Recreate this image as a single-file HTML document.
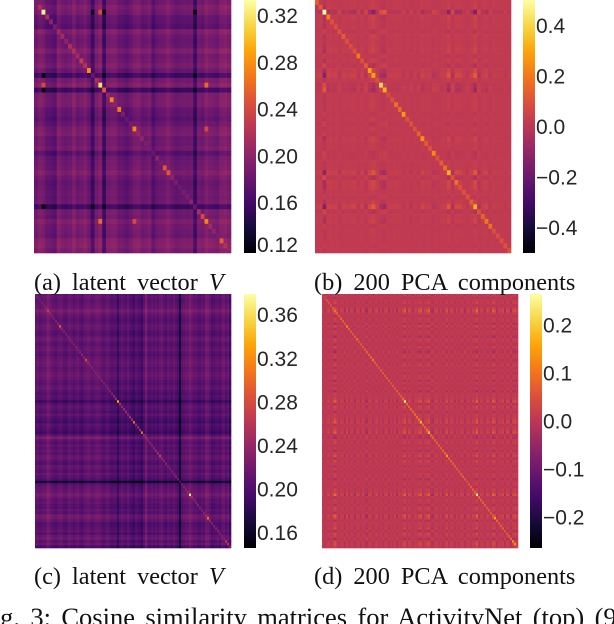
<!DOCTYPE html>
<html lang="en">
<head>
<meta charset="utf-8">
<title>Cosine similarity matrices</title>
<style>
html,body{margin:0;padding:0;background:#fff;width:614px;height:624px;overflow:hidden}
svg{display:block}
.tick{font-family:"Liberation Sans",sans-serif;font-size:21px;fill:#262626}
.cap{font-family:"Liberation Serif",serif;font-size:24.3px;fill:#111;word-spacing:5px}
.note{font-family:"Liberation Serif",serif;font-size:26.5px;fill:#111;word-spacing:3.75px}
</style>
</head>
<body>
<svg id="figure" xmlns="http://www.w3.org/2000/svg" width="614" height="624" viewBox="0 0 614 624">
  <defs>
    <linearGradient id="inferno" x1="0" y1="1" x2="0" y2="0">
      <stop offset="0" stop-color="#000004"/><stop offset="0.1" stop-color="#160b39"/>
      <stop offset="0.2" stop-color="#420a68"/><stop offset="0.3" stop-color="#6a176e"/>
      <stop offset="0.4" stop-color="#932667"/><stop offset="0.5" stop-color="#bc3754"/>
      <stop offset="0.6" stop-color="#dd513a"/><stop offset="0.7" stop-color="#f37819"/>
      <stop offset="0.8" stop-color="#fca50a"/><stop offset="0.9" stop-color="#f6d746"/>
      <stop offset="1" stop-color="#fcffa4"/>
    </linearGradient>
  </defs>
  <g id="panel-a"></g>
  <g id="panel-b"></g>
  <g id="panel-c"></g>
  <g id="panel-d"></g>
  <text class="cap" x="34" y="290">(a) latent vector <tspan font-style="italic">V</tspan></text>
  <text class="cap" x="314" y="290">(b) 200 PCA components</text>
  <text class="cap" x="34" y="584">(c) latent vector <tspan font-style="italic">V</tspan></text>
  <text class="cap" x="314" y="584">(d) 200 PCA components</text>
  <text class="note" x="-22" y="626">Fig. 3: Cosine similarity matrices for ActivityNet (top) (9</text>
</svg>
<script>
// Colormap stops (inferno)
const infernoStops = [[0,0,4],[22,11,57],[66,10,104],[106,23,110],[147,38,103],[188,55,84],[221,81,58],[243,120,25],[252,165,10],[246,215,70],[252,255,164]];

// Panel (a): estimated row/column levels and diagonal
const levelsA = [0,.008,.004,-.006,-.008,-.012,.008,0,-.002,0,.01,0,.003,.008,-.002,-.024,.003,.01,-.026,.004,.006,.006,-.003,-.005,-.009,-.003,.005,.008,-.001,0,.004,-.012,-.002,0,.002,.008,0,-.005,-.003,-.001,-.002,0,-.026,.003,0,.01,.004,.002,0,.01,.012,.006];
const diagonalA = [.19,.215,.33,.215,.2,.19,.21,.21,.2,.215,.22,.21,.23,.22,.28,.18,.215,.32,.25,.205,.275,.2,.27,.19,.18,.19,.275,.205,.2,.19,.19,.18,.2,.19,.25,.25,.2,.19,.185,.19,.19,.2,.18,.215,.24,.275,.21,.2,.19,.255,.22,.2];
const outliersA = [[2,15,.125],[2,18,.125],[2,42,.12],[15,42,.125],[18,42,.13],[17,45,.26],[26,45,.24],[17,2,.24]];
const ticksA = [.12,.16,.20,.24,.28,.32];

// Panel (b)
const loadingsB = [.04,.08,-.42,.12,.06,.08,-.06,.08,.04,.08,.12,-.04,.08,-.1,.15,.33,.06,-.16,-.24,.04,.04,.06,.04,-.04,.04,-.06,.04,-.04,.12,.04,.04,-.08,-.04,.04,.04,.3,-.12,.16,.14,.04,-.04,.08,.36,-.1,.06,.12,-.04,.04,.03,.03,-.02,.03];
const diagonalB = [.13,.12,.5,.22,.1,.1,.1,.13,.1,.09,.1,.2,.1,.13,.3,.3,.09,.42,.33,.08,.1,.18,.16,.28,.1,.1,.1,.14,.26,.12,.1,.24,.1,.13,.18,.33,.1,.18,.1,.1,.1,.14,.33,.1,.15,.2,.18,.09,.09,.1,.1,.1];
const ticksB = [-.4,-.2,0,.2,.4];

// Panel (c)
const levelsC = [.002,.003,-.002,.001,.004,.005,.016,.008,.002,-.001,-.004,.001,.005,.004,-.003,-.005,.002,.006,.001,-.004,.002,.005,-.002,-.006,.001,.004,.008,.005,-.001,.002,.006,.008,.004,-.001,-.005,.002,.004,-.003,-.008,-.004,-.006,-.02,-.005,.001,-.004,-.008,.002,-.006,-.011,-.016,-.004,-.008,-.012,-.018,-.003,.016,-.001,-.006,.002,-.004,.001,-.005,.004,.006,-.003,-.008,.002,-.001,-.005,.004,-.004,-.01,-.04,-.003,.001,.004,.005,.014,.006,-.001,.002,-.004,-.006,.001,-.003,.012,.01,.002,-.009,-.005,-.003,.001,-.006,.004,.008,-.003,.005,-.014];
const diagonalC = [.22,.22,.22,.225,.225,.235,.27,.24,.23,.225,.23,.235,.29,.235,.23,.225,.225,.23,.225,.225,.23,.23,.23,.235,.235,.28,.24,.23,.23,.225,.23,.23,.225,.23,.225,.225,.23,.23,.23,.235,.245,.33,.25,.24,.24,.24,.24,.25,.25,.3,.24,.24,.25,.3,.24,.25,.23,.23,.23,.23,.24,.24,.27,.24,.23,.23,.23,.225,.225,.23,.23,.22,.2,.225,.23,.23,.24,.37,.25,.23,.23,.23,.225,.225,.23,.25,.31,.24,.225,.23,.23,.23,.225,.23,.23,.26,.26,.225];
const ticksC = [.16,.20,.24,.28,.32,.36];

// Panel (d)
const loadingsD = [.07,-.06,.05,.1,-.04,.12,.28,.1,-.06,.07,.05,-.1,.12,-.07,.06,.04,-.12,.08,.05,-.06,.1,-.05,-.14,.06,.07,-.08,.04,.11,-.06,.05,-.07,.06,.08,-.11,.05,-.04,.07,-.12,.06,.02,.1,.24,-.06,.12,.05,-.08,.07,.04,.14,.21,-.05,.07,.12,.24,-.07,-.12,.06,.1,-.04,.07,-.1,.05,.17,-.06,.11,.04,-.07,.06,-.05,.08,.06,-.11,.05,.07,-.04,.1,.06,.31,-.06,.08,.04,-.07,.1,.06,-.05,.26,.14,-.08,.07,.05,.12,-.1,.14,.06,-.12,.11,.17,.07];
const diagonalD = [.02,.03,.05,.06,.05,.06,.1,.07,.06,.08,.07,.06,.12,.08,.06,.06,.07,.09,.05,.06,.06,.06,.07,.07,.08,.11,.07,.06,.05,.06,.06,.06,.06,.06,.05,.06,.06,.07,.06,.06,.09,.24,.09,.08,.08,.08,.09,.09,.1,.19,.09,.08,.1,.19,.08,.08,.07,.07,.07,.07,.08,.08,.15,.08,.07,.07,.07,.06,.06,.07,.07,.06,.04,.06,.07,.07,.08,.25,.09,.07,.07,.07,.06,.06,.07,.08,.16,.08,.06,.07,.07,.06,.06,.07,.08,.13,.14,.03];
const ticksD = [-.2,-.1,0,.1,.2];

// Cell value functions built from the arrays above
function valueA(i, j) {
  if (i === j) return diagonalA[i];
  const hit = outliersA.find(function (o) { return (o[0] === i && o[1] === j) || (o[0] === j && o[1] === i); });
  return hit ? hit[2] : 0.183 + levelsA[i] + levelsA[j];
}
function valueB(i, j) { return i === j ? diagonalB[i] : 0.012 + loadingsB[i] * loadingsB[j]; }
function valueC(i, j) { return i === j ? diagonalC[i] : 0.208 + levelsC[i] + levelsC[j]; }
function valueD(i, j) { return i === j ? diagonalD[i] : 0.002 + loadingsD[i] * loadingsD[j]; }

function colour(t) {
  const p = Math.max(0, Math.min(1, t)) * (infernoStops.length - 1);
  const k = Math.min(Math.floor(p), infernoStops.length - 2);
  const f = p - k;
  const a = infernoStops[k], b = infernoStops[k + 1];
  return 'rgb(' + Math.round(a[0] + (b[0] - a[0]) * f) + ',' + Math.round(a[1] + (b[1] - a[1]) * f) + ',' + Math.round(a[2] + (b[2] - a[2]) * f) + ')';
}
const NS = 'http://www.w3.org/2000/svg';
function drawPanel(id, n, valueAt, ticks, decimals, box) {
  const group = document.getElementById(id);
  const xScale = function (i) { return box.x + i * box.w / n; };
  const yScale = function (i) { return box.y + i * box.h / n; };
  const colourScale = function (v) { return colour((v - box.min) / (box.max - box.min)); };
  const barY = function (v) { return box.y + (box.max - v) / (box.max - box.min) * box.h; };
  const frag = document.createDocumentFragment();
  for (let r = 0; r < n; r++) {
    for (let c = 0; c < n; c++) {
      const cell = document.createElementNS(NS, 'rect');
      
      
      cell.setAttribute('x', xScale(c));
      cell.setAttribute('y', yScale(r));
      cell.setAttribute('width', box.w / n + 0.3);
      cell.setAttribute('height', box.h / n + 0.3);
      cell.setAttribute('fill', colourScale(valueAt(r, c)));
      frag.appendChild(cell);
    }
  }
  const bar = document.createElementNS(NS, 'rect');
  
  
  bar.setAttribute('x', box.barX);
  bar.setAttribute('y', box.y);
  bar.setAttribute('width', 12);
  bar.setAttribute('height', box.h);
  bar.setAttribute('fill', 'url(#inferno)');
  frag.appendChild(bar);
  ticks.forEach(function (v) {
    const label = document.createElementNS(NS, 'text');
    
    
    label.setAttribute('class', 'tick');
    label.setAttribute('x', box.barX + 13);
    label.setAttribute('y', Math.min(barY(v) + 7.5, box.y + box.h - 1));
    label.textContent = v.toFixed(decimals).replace('-', '\u2212');
    frag.appendChild(label);
  });
  group.appendChild(frag);
}
drawPanel('panel-a', 52, valueA, ticksA, 2, {x: 34, y: 0, w: 197, h: 253, barX: 244, min: .117, max: .3334});
drawPanel('panel-b', 52, valueB, ticksB, 1, {x: 315, y: 0, w: 196, h: 253, barX: 523, min: -.5, max: .5});
drawPanel('panel-c', 98, valueC, ticksC, 2, {x: 35, y: 294, w: 196, h: 254, barX: 244, min: .146, max: .379});
drawPanel('panel-d', 98, valueD, ticksD, 1, {x: 322, y: 294, w: 196, h: 254, barX: 530, min: -.265, max: .265});
</script>
</body>
</html>
